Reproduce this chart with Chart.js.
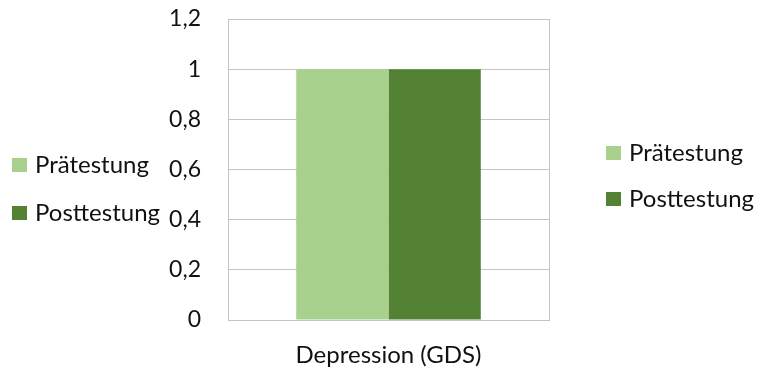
<!DOCTYPE html>
<html>
<head>
<meta charset="utf-8">
<script src="https://cdn.jsdelivr.net/npm/chart.js@4/dist/chart.umd.min.js"></script>
<style>
  html, body { margin: 0; padding: 0; background: #ffffff; }
  #wrap { width: 764px; height: 370px; }
</style>
</head>
<body>
<div id="wrap"><canvas id="c" width="764" height="370"></canvas></div>
<script>
const categories = ['Depression (GDS)'];
const seriesNames = ['Prätestung', 'Posttestung'];
const pretest = [1];
const posttest = [1];
const yTicks = [0, 0.2, 0.4, 0.6, 0.8, 1, 1.2];

const FONT = 'Lato, "Liberation Sans", sans-serif';
const TEXT = '#111111';
const GRID = '#c4c4c4';

// Draws the two identical legends: one left of the axis, one on the right.
const twinLegends = {
  id: 'twinLegends',
  afterDraw(chart) {
    const ctx = chart.ctx;
    const groups = [
      { x: 12, ys: [165, 213] },
      { x: 606, ys: [153, 199] }
    ];
    ctx.save();
    ctx.font = '24px ' + FONT;
    ctx.textBaseline = 'middle';
    ctx.textAlign = 'left';
    groups.forEach(g => {
      chart.data.datasets.forEach((ds, i) => {
        const y = g.ys[i];
        ctx.fillStyle = ds.backgroundColor;
        ctx.fillRect(g.x, y - 7, 15, 14);
        ctx.fillStyle = TEXT;
        ctx.fillText(ds.label, g.x + 23, y);
      });
    });
    ctx.restore();
  }
};

new Chart(document.getElementById('c'), {
  type: 'bar',
  data: {
    labels: categories,
    datasets: [
      { label: seriesNames[0], data: pretest, backgroundColor: '#a9d18e' },
      { label: seriesNames[1], data: posttest, backgroundColor: '#548235' }
    ]
  },
  options: {
    responsive: false,
    animation: false,
    devicePixelRatio: 1,
    layout: { padding: { top: 19, right: 215, left: 0, bottom: 0 } },
    plugins: { legend: { display: false }, tooltip: { enabled: false } },
    datasets: { bar: { categoryPercentage: 0.575, barPercentage: 1 } },
    scales: {
      x: {
        grid: { display: true, offset: true, color: GRID, lineWidth: 1, drawTicks: false },
        border: { display: true, color: GRID },
        ticks: { color: TEXT, font: { family: FONT, size: 24 }, padding: 21 },
        afterFit(scale) { scale.height = 50; scale.paddingLeft = 0; scale.paddingRight = 0; }
      },
      y: {
        min: 0, max: 1.2,
        afterBuildTicks(scale) { scale.ticks = yTicks.map(v => ({ value: v })); },
        grid: { color: GRID, lineWidth: 1, drawTicks: false },
        border: { display: true, color: GRID },
        ticks: {
          color: TEXT,
          font: { family: FONT, size: 23 },
          padding: 27,
          callback: v => String(Math.round(v * 10) / 10).replace('.', ',')
        },
        afterFit(scale) { scale.width = 228; scale.paddingTop = 0; scale.paddingBottom = 0; }
      }
    }
  },
  plugins: [twinLegends]
});
</script>
</body>
</html>
